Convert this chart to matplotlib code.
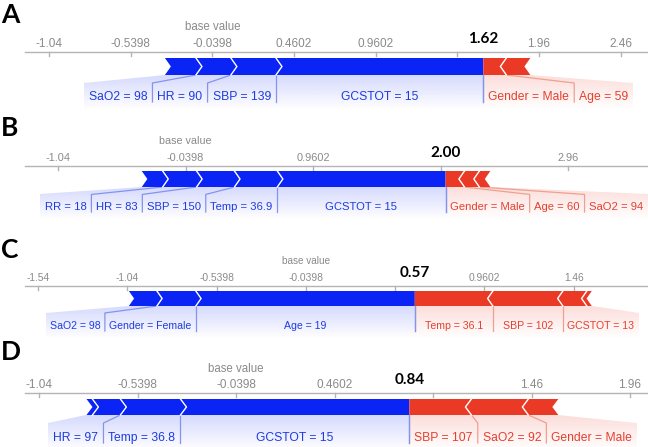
import numpy as np
import matplotlib.pyplot as plt
from matplotlib.patches import Polygon

W, H = 648, 447

# ---- data ----
panel_letters = ['A', 'B', 'C', 'D']
base_value = -0.0398
outputs = [1.62, 2.00, 0.57, 0.84]

# blue features (push the value up), listed from the output value outwards
blue_names_A = ['GCSTOT = 15', 'SBP = 139', 'HR = 90', 'SaO2 = 98']
blue_shap_A = [1.27, 0.276, 0.214, 0.19]
blue_names_B = ['GCSTOT = 15', 'Temp = 36.9', 'SBP = 150', 'HR = 83', 'RR = 18']
blue_shap_B = [1.32, 0.336, 0.297, 0.266, 0.164]
blue_names_C = ['Age = 19', 'Gender = Female', 'SaO2 = 98']
blue_shap_C = [1.226, 0.218, 0.157]
blue_names_D = ['GCSTOT = 15', 'Temp = 36.8', 'HR = 97', '']
blue_shap_D = [1.162, 0.305, 0.142, 0.030]

# red features (push the value down), listed from the output value outwards
red_names_A = ['Gender = Male', 'Age = 59']
red_shap_A = [0.141, 0.147]
red_names_B = ['Gender = Male', 'Age = 60', 'SaO2 = 94']
red_shap_B = [0.148, 0.117, 0.086]
red_names_C = ['Temp = 36.1', 'SBP = 102', 'GCSTOT = 13', '']
red_shap_C = [0.437, 0.392, 0.134, 0.028]
red_names_D = ['SBP = 107', 'SaO2 = 92', 'Gender = Male']
red_shap_D = [0.315, 0.289, 0.152]

ticks_A = [-1.04, -0.5398, -0.0398, 0.4602, 0.9602, 1.46, 1.96, 2.46]
ticks_B = [-1.04, -0.0398, 0.9602, 1.96, 2.96]
ticks_C = [-1.54, -1.04, -0.5398, -0.0398, 0.4602, 0.9602, 1.46]
ticks_D = [-1.04, -0.5398, -0.0398, 0.4602, 0.9602, 1.46, 1.96]

blue_names = [blue_names_A, blue_names_B, blue_names_C, blue_names_D]
blue_shap = [blue_shap_A, blue_shap_B, blue_shap_C, blue_shap_D]
red_names = [red_names_A, red_names_B, red_names_C, red_names_D]
red_shap = [red_shap_A, red_shap_B, red_shap_C, red_shap_D]
ticks = [ticks_A, ticks_B, ticks_C, ticks_D]

# ---- layout (pixels) ----
# pixels per unit, pixel position of value 0
scale_px = [(163.3, 218.8), (127.5, 190.6), (178.6, 313.0), (197.0, 243.9)]
# axis line y, bar top, bar bottom, label baseline, panel letter baseline
layout = [(52, 58, 75, 100, 23), (166, 171, 187, 210, 136),
          (286, 291, 306, 329, 258), (393, 399, 415, 441, 360)]
font_scale = [1.0, 0.93, 0.87, 1.0]

BLUE = '#0a24f5'
RED = '#ea3a26'
BLUE_TXT = '#1e3ce2'
RED_TXT = '#e5402e'
BLUE_LINE = '#8494ee'
RED_LINE = '#f0a08f'
GREY_AX = '#b4b4b4'
GREY_TXT = '#8a8a8a'
SANS = 'Liberation Sans'

fig = plt.figure(figsize=(W / 100, H / 100), dpi=100)
renderer = fig.canvas.get_renderer()


def shade(ax, pts, rgb, y_top, y_bot, xlo, xhi):
    # light gradient under the bar, fading downwards
    poly = Polygon(pts, closed=True, fill=False, lw=0)
    ax.add_patch(poly)
    grad = np.zeros((60, 1, 4))
    grad[..., :3] = plt.matplotlib.colors.to_rgb(rgb)
    grad[:, 0, 3] = np.linspace(0.17, 0.0, 60)
    im = ax.imshow(grad, extent=(xlo, xhi, y_bot, y_top), aspect='auto',
                   interpolation='bilinear', zorder=1)
    im.set_clip_path(poly)


for k in range(4):
    ppu, zero = scale_px[k]
    axis_y, bar_top, bar_bot, lab_y, letter_y = layout[k]
    s = font_scale[k]
    out = outputs[k]

    ax = fig.add_axes([0, 0, 1, 1])
    ax.axis('off')
    xmin, xmax = -zero / ppu, (W - zero) / ppu

    def val(p):
        return (p - zero) / ppu

    def px(v):
        return zero + v * ppu

    mid = (bar_top + bar_bot) / 2
    hd = 6 * s / ppu
    pad = 5 * s

    # axis with ticks
    ax.plot([val(25), xmax], [axis_y, axis_y], color=GREY_AX, lw=1, zorder=2)
    for t in ticks[k]:
        ax.plot([t, t], [axis_y, axis_y + 4], color=GREY_AX, lw=1, zorder=2)
        if abs(px(t) - px(out)) > 45:
            ax.text(t, axis_y - 5, f'{t:g}', ha='center', va='baseline',
                    fontsize=8.5 * s, color=GREY_TXT, family=SANS)
    ax.text(base_value, axis_y - 21.5, 'base value', ha='center', va='baseline',
            fontsize=8.3 * s, color=GREY_TXT, family=SANS)
    ax.text(out, axis_y - 9, f'{out:.2f}', ha='center', va='baseline',
            fontsize=11, fontweight='bold', family='Lato', color='black')
    fig.text(1 / W, 1 - letter_y / H, panel_letters[k], ha='left', va='baseline',
             fontsize=19, fontweight='bold', family='Lato')

    # blue side: segments point right, from the output value leftwards
    edges = out - np.concatenate([[0], np.cumsum(blue_shap[k])])
    for i in range(len(blue_shap[k])):
        r, l = edges[i], edges[i + 1]
        if i == 0:
            tip = [(r, bar_top), (r, bar_bot)]
        else:
            tip = [(r, bar_top), (r + hd, mid), (r, bar_bot)]
        pts = [(l, bar_top)] + tip + [(l, bar_bot), (l + hd, mid)]
        ax.add_patch(Polygon(pts, closed=True, fc=BLUE, ec='none', zorder=3))
        if i > 0:
            ax.plot([r, r + hd, r], [bar_top, mid, bar_bot], color='white', lw=1.0, zorder=4)

    prev = px(out)
    outer = px(out)
    for i, name in enumerate(blue_names[k]):
        if not name:
            continue
        r_px, l_px = px(edges[i]), px(edges[i + 1])
        t = ax.text(0, lab_y, name, ha='center', va='baseline', fontsize=8.7 * s,
                    color=BLUE_TXT, family=SANS, zorder=5)
        w = t.get_window_extent(renderer).width
        sep = min(r_px, prev)
        right = min((r_px + l_px) / 2 + w / 2, sep - pad)
        t.set_x(val(right - w / 2))
        ax.plot([edges[i], val(sep), val(sep)], [bar_bot, bar_bot + 8 * s, lab_y + 2],
                color=BLUE_LINE, lw=0.9, zorder=2)
        prev = right - w - pad
        outer = prev
    shade(ax, [(edges[-1], bar_bot), (out, bar_bot), (out, lab_y + 10),
               (val(outer), lab_y + 10), (val(outer), bar_bot + 8 * s)],
          BLUE, bar_bot, lab_y + 10, val(outer), out)

    # red side: segments point left, from the output value rightwards
    edges = out + np.concatenate([[0], np.cumsum(red_shap[k])])
    for i in range(len(red_shap[k])):
        l, r = edges[i], edges[i + 1]
        if i == 0:
            tip = [(l, bar_bot), (l, bar_top)]
        else:
            tip = [(l, bar_bot), (l - hd, mid), (l, bar_top)]
        pts = [(r, bar_top)] + [(r - hd, mid), (r, bar_bot)] + tip
        ax.add_patch(Polygon(pts, closed=True, fc=RED, ec='none', zorder=3))
        if i > 0:
            ax.plot([l, l - hd, l], [bar_top, mid, bar_bot], color='white', lw=1.0, zorder=4)

    prev = px(out)
    outer = px(out)
    for i, name in enumerate(red_names[k]):
        if not name:
            continue
        l_px, r_px = px(edges[i]), px(edges[i + 1])
        t = ax.text(0, lab_y, name, ha='center', va='baseline', fontsize=8.7 * s,
                    color=RED_TXT, family=SANS, zorder=5)
        w = t.get_window_extent(renderer).width
        sep = max(l_px, prev)
        left = max((l_px + r_px) / 2 - w / 2, sep + pad)
        t.set_x(val(left + w / 2))
        if i > 0:
            ax.plot([edges[i], val(sep), val(sep)], [bar_bot, bar_bot + 8 * s, lab_y + 2],
                    color=RED_LINE, lw=0.9, zorder=2)
        prev = left + w + pad
        outer = prev
    shade(ax, [(edges[-1], bar_bot), (out, bar_bot), (out, lab_y + 10),
               (val(outer), lab_y + 10), (val(outer), bar_bot + 8 * s)],
          RED, bar_bot, lab_y + 10, out, val(outer))
    # line at the output value
    ax.plot([out, out], [bar_bot, lab_y + 2], color=BLUE_LINE, lw=0.9, zorder=2)

    ax.set_xlim(xmin, xmax)
    ax.set_ylim(H, 0)

fig.savefig('out.png', dpi=100)
